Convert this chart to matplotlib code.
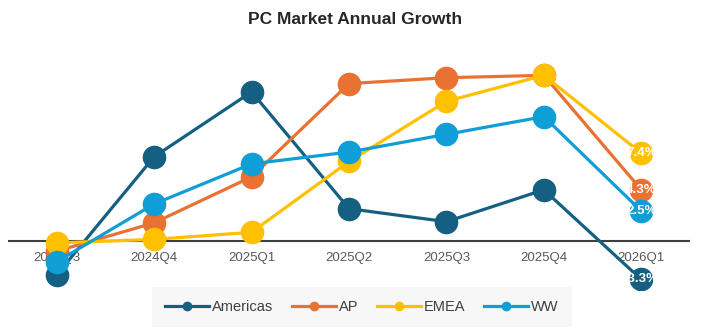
import matplotlib.pyplot as plt
from matplotlib.lines import Line2D

plt.rcParams['font.family'] = ['Liberation Sans', 'DejaVu Sans']

quarters = ['2024Q3', '2024Q4', '2025Q1', '2025Q2', '2025Q3', '2025Q4', '2026Q1']
americas = [-2.9, 7.1, 12.6, 2.7, 1.6, 4.3, -3.3]
ap = [-0.9, 1.5, 5.4, 13.3, 13.8, 14.0, 4.3]
emea = [-0.2, 0.1, 0.7, 6.7, 11.8, 14.0, 7.4]
ww = [-1.8, 3.1, 6.5, 7.5, 9.0, 10.5, 2.5]

series = [
    ('Americas', americas, '#156082'),
    ('AP', ap, '#E97132'),
    ('EMEA', emea, '#FFC000'),
    ('WW', ww, '#0F9ED5'),
]

fig = plt.figure(figsize=(7.1, 3.33), dpi=100)
ax = fig.add_axes([8 / 710, 43 / 333, 682 / 710, 230 / 333])

x = list(range(len(quarters)))
for name, vals, color in series:
    ax.plot(x, vals, color=color, linewidth=2.3, marker='o', markersize=17,
            markeredgewidth=0, label=name, solid_capstyle='round')
    # value label on the last point
    ax.text(x[-1], vals[-1], f'{vals[-1]:.1f}%', color='white', fontsize=9.5,
            fontweight='bold', ha='center', va='center', zorder=10)

ax.set_xlim(-0.5, 6.5)
ax.set_ylim(-4.19, 15.3)
ax.axhline(0, color='#404040', linewidth=1.5, zorder=0)

for s in ax.spines.values():
    s.set_visible(False)
ax.set_yticks([])
ax.set_xticks([])
for xi, q in zip(x, quarters):
    ax.annotate(q, (xi, 0), xytext=(0, -8), textcoords='offset points',
                ha='center', va='top', fontsize=9.5, color='#595959', zorder=0)

fig.text(0.5, 1 - 20 / 333, 'PC Market Annual Growth', ha='center', va='center',
         fontsize=12.5, fontweight='bold', color='#262626')

handles = [Line2D([0], [0], color=c, linewidth=2.3, marker='o', markersize=6)
           for _, _, c in series]
leg = fig.legend(handles, [n for n, _, _ in series], loc='center',
                 bbox_to_anchor=(362 / 710, 1 - 307 / 333), ncol=4,
                 fontsize=10.5, frameon=True, facecolor='#F6F6F6',
                 edgecolor='none', fancybox=False, handlelength=3.0,
                 handletextpad=0.2, columnspacing=1.3, borderpad=0.9)
for t in leg.get_texts():
    t.set_color('#404040')

fig.savefig('out.png', dpi=100)
